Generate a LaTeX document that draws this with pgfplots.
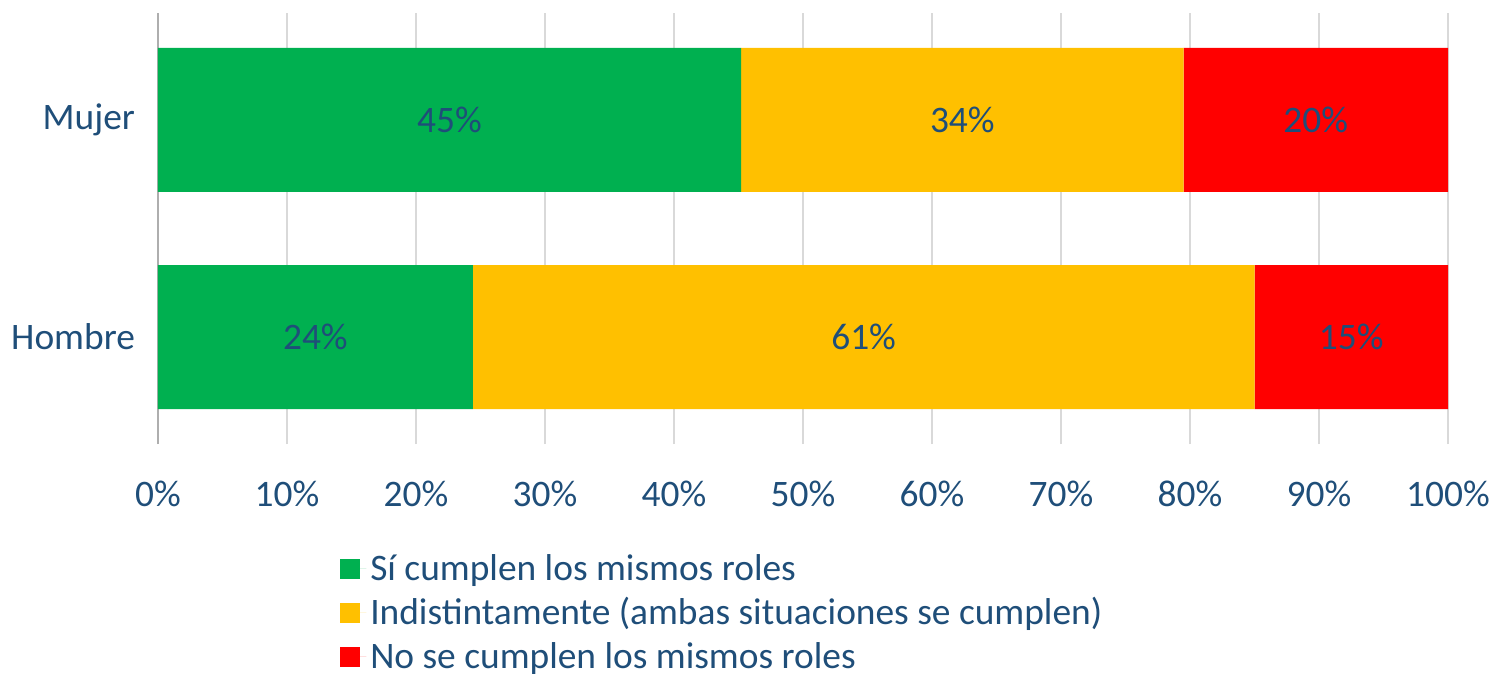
\documentclass[border=0pt]{standalone}
\usepackage{fontspec}
\setmainfont{Carlito}
\usepackage{pgfplots}
\pgfplotsset{compat=1.18}
\definecolor{txt}{RGB}{31,78,121}
\definecolor{cgreen}{RGB}{0,176,80}
\definecolor{cyellow}{RGB}{255,192,0}
\definecolor{cred}{RGB}{255,0,0}
\definecolor{gridc}{RGB}{217,217,217}

\begin{document}
\begin{tikzpicture}
\begin{axis}[
  name=ax,
  scale only axis, width=645pt, height=215.5pt,
  xbar stacked, bar width=72pt,
  xmin=0, xmax=100, ymin=-0.493, ymax=1.493,
  xtick={0,10,...,100}, ytick={0,1}, yticklabels={Hombre,Mujer},
  xticklabel={\pgfmathprintnumber{\tick}\%},
  /pgf/number format/assume math mode=true,
  font=\fontsize{18.7}{22}\selectfont, text=txt,
  tick label style={text=txt},
  xticklabel style={yshift=-15pt},
  yticklabel style={xshift=-8pt},
  major tick length=0pt,
  xmajorgrids, grid style={gridc, line width=0.8pt},
  axis x line*=bottom, x axis line style={draw=none},
  axis y line*=left, y axis line style={draw=gridc!80!black, line width=0.8pt, -},
  legend style={at={(rel axis cs:0.141,-0.2455)}, anchor=north west,
    draw=none, fill=none, text=txt, font=\fontsize{18.7}{22}\selectfont,
    row sep=3.2pt, inner sep=0pt},
  legend cell align=left,
  legend image code/.code={\fill[#1] (0pt,-5pt) rectangle (10pt,5pt);
    \path (0pt,0pt) -- (13pt,0pt);},
]
\addplot[fill=cgreen, draw=none] coordinates {(24.4,0) (45.2,1)};
\addlegendentry{Sí cumplen los mismos roles}
\addplot[fill=cyellow, draw=none] coordinates {(60.6,0) (34.3,1)};
\addlegendentry{Indistintamente (ambas situaciones se cumplen)}
\addplot[fill=cred, draw=none] coordinates {(15.0,0) (20.5,1)};
\addlegendentry{No se cumplen los mismos roles}
% segment label positions (centre of each segment)
\coordinate (m1) at (axis cs:22.6,1);
\coordinate (m2) at (axis cs:62.35,1);
\coordinate (m3) at (axis cs:89.75,1);
\coordinate (h1) at (axis cs:12.2,0);
\coordinate (h2) at (axis cs:54.7,0);
\coordinate (h3) at (axis cs:92.5,0);
\end{axis}
\begin{scope}[text=txt, font=\fontsize{18.7}{22}\selectfont]
\node at (m1) {45\%};
\node at (m2) {34\%};
\node at (m3) {20\%};
\node at (h1) {24\%};
\node at (h2) {61\%};
\node at (h3) {15\%};
\end{scope}
\pgfresetboundingbox
\path (ax.south west) ++(-79pt,-115pt) rectangle ++(746.5pt,337pt);
\end{tikzpicture}
\end{document}
